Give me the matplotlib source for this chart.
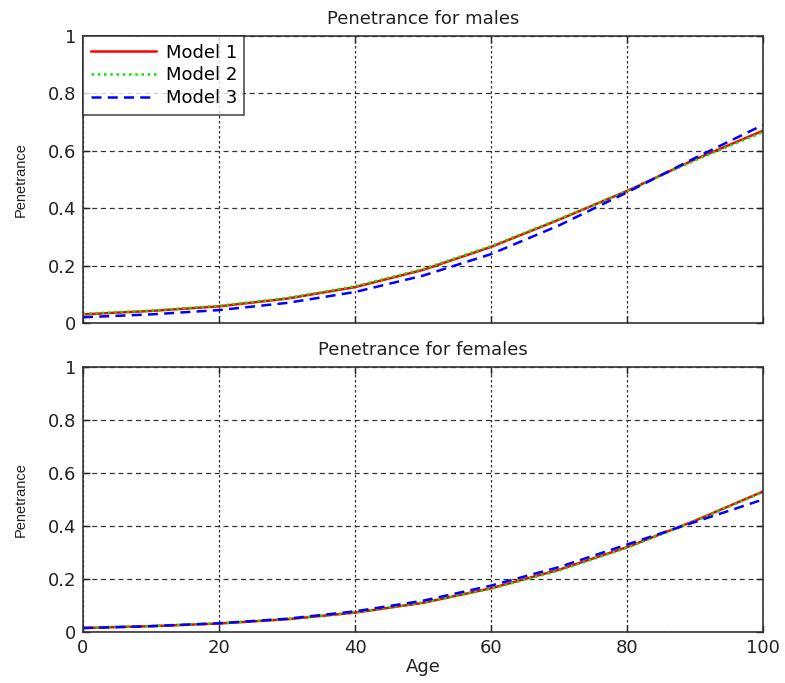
import matplotlib
matplotlib.use("Agg")
import matplotlib.pyplot as plt
import numpy as np

age = [0, 10, 20, 30, 40, 50, 60, 70, 80, 90, 100]

male_m1 = [0.030, 0.042, 0.058, 0.085, 0.125, 0.185, 0.265, 0.360, 0.460, 0.570, 0.670]
male_m2 = [0.032, 0.043, 0.060, 0.087, 0.128, 0.188, 0.268, 0.362, 0.460, 0.567, 0.665]
male_m3 = [0.020, 0.030, 0.045, 0.070, 0.108, 0.165, 0.240, 0.340, 0.455, 0.575, 0.690]

female_m1 = [0.015, 0.022, 0.032, 0.048, 0.073, 0.110, 0.165, 0.235, 0.320, 0.420, 0.530]
female_m2 = [0.016, 0.023, 0.033, 0.049, 0.074, 0.111, 0.163, 0.232, 0.318, 0.418, 0.528]
female_m3 = [0.015, 0.022, 0.033, 0.050, 0.078, 0.118, 0.175, 0.245, 0.330, 0.415, 0.500]

series_labels = ["Model 1", "Model 2", "Model 3"]
titles = ["Penetrance for males", "Penetrance for females"]

plt.rcParams['font.family'] = ['DejaVu Sans']
fig = plt.figure(figsize=(7.85, 6.83), dpi=100)
W, H = 785, 683
ax1 = fig.add_axes([83 / W, 1 - 323 / H, 680 / W, 287 / H])
ax2 = fig.add_axes([83 / W, 1 - 632 / H, 680 / W, 265 / H])

txt = '#222222'
for ax, data, title in [(ax1, (male_m1, male_m2, male_m3), titles[0]),
                        (ax2, (female_m1, female_m2, female_m3), titles[1])]:
    ax.plot(age, data[0], color='#ff0000', lw=1.8, ls='-', label=series_labels[0])
    ax.plot(age, data[1], color='#00ee00', lw=1.8, ls=(0, (1, 1.5)), label=series_labels[1])
    ax.plot(age, data[2], color='#0000ff', lw=1.8, ls=(0, (4, 2.5)), label=series_labels[2])
    ax.set_xlim(0, 100)
    ax.set_ylim(0, 1)
    ax.set_xticks([0, 20, 40, 60, 80, 100])
    ax.set_yticks([0, 0.2, 0.4, 0.6, 0.8, 1])
    ax.set_yticklabels(['0', '0.2', '0.4', '0.6', '0.8', '1'])
    ax.yaxis.grid(True, color='#333333', ls=(0, (4, 3)), lw=0.9)
    ax.xaxis.grid(True, color='#333333', ls=(0, (2, 2)), lw=0.9)
    ax.tick_params(direction='in', top=True, right=True, length=5, width=1,
                   labelsize=13, colors=txt, pad=5)
    for s in ax.spines.values():
        s.set_color('#333333')
        s.set_linewidth(1.2)
    ax.set_title(title, fontsize=13, pad=9, color=txt)
    ax.set_ylabel('Penetrance', fontsize=10.5, color=txt, labelpad=14,
                  family='Liberation Sans')

ax1.set_xticklabels([])
ax2.set_xlabel('Age', fontsize=13, color=txt, labelpad=1)

leg = ax1.legend(loc='upper left', fontsize=13, frameon=True, fancybox=False,
                 edgecolor='#222222', borderaxespad=0, handlelength=3.6,
                 handletextpad=0.55, borderpad=0.42, labelspacing=0.26)
leg.get_frame().set_linewidth(1.2)

fig.savefig('out.png', dpi=100)
